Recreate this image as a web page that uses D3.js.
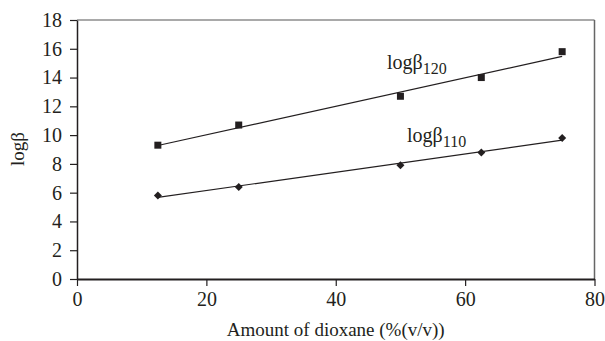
<!DOCTYPE html>
<html><head><meta charset="utf-8">
<script src="https://cdn.jsdelivr.net/npm/d3@7"></script>
<style>body{margin:0;background:#fff}svg{display:block}</style>
</head><body><svg id="c" width="605" height="341"></svg>
<script>
const dioxane = [12.5, 25, 50, 62.5, 75];
const logB120 = [9.3, 10.7, 12.7, 14.0, 15.8];
const logB110 = [5.8, 6.4, 7.9, 8.8, 9.8];
const xTicks = [0, 20, 40, 60, 80];
const yTicks = [0, 2, 4, 6, 8, 10, 12, 14, 16, 18];

const FONT = "'Liberation Serif', Tinos, 'Times New Roman', 'DejaVu Serif', serif";
const svg = d3.select("#c");
const m = {l:77, r:594.5, t:20, b:279};
const x = d3.scaleLinear().domain([0,80]).range([m.l, m.r]);
const y = d3.scaleLinear().domain([0,18]).range([m.b, m.t]);
const ink = "#231f20";

// frame (top and right)
svg.append("line").attr("x1",m.l).attr("x2",m.r).attr("y1",m.t).attr("y2",m.t).attr("stroke","#555").attr("stroke-width",1.2);
svg.append("line").attr("x1",m.r).attr("x2",m.r).attr("y1",m.t).attr("y2",m.b).attr("stroke","#666").attr("stroke-width",1.5);

// axes
const gx = svg.append("g").attr("transform",`translate(0,${m.b})`)
  .call(d3.axisBottom(x).tickValues(xTicks).tickSize(7).tickPadding(6).tickSizeOuter(0));
const gy = svg.append("g").attr("transform",`translate(${m.l},0)`)
  .call(d3.axisLeft(y).tickValues(yTicks).tickSize(7).tickPadding(8).tickSizeOuter(0));
gx.select(".domain").attr("stroke",ink).attr("stroke-width",2);
gy.select(".domain").attr("stroke",ink).attr("stroke-width",1.5);
[gx,gy].forEach(g=>{
  g.attr("font-family",null).attr("font-size",null);
  g.selectAll(".tick line").attr("stroke",ink).attr("stroke-width",1.2);
  g.selectAll(".tick text").style("font-size","20px").style("font-family",FONT).attr("fill",ink);
});
gx.selectAll(".tick text").attr("dy","0.72em");

// titles
svg.append("text").attr("x",(m.l+m.r)/2).attr("y",336).attr("text-anchor","middle")
  .style("font-size","19px").style("font-family",FONT).attr("fill",ink).text("Amount of dioxane (%(v/v))");
svg.append("text").attr("transform","translate(24,149) rotate(-90)").attr("text-anchor","middle")
  .style("font-size","19px").style("font-family",FONT).attr("fill",ink).text("logβ");

// linear fits
function fit(xs, ys){
  const mx=d3.mean(xs), my=d3.mean(ys);
  let sxy=0,sxx=0; xs.forEach((v,i)=>{sxy+=(v-mx)*(ys[i]-my);sxx+=(v-mx)*(v-mx);});
  const b=sxy/sxx, a=my-b*mx; return v=>a+b*v;
}
[logB120, logB110].forEach(ys=>{
  const f = fit(dioxane, ys);
  const x0=d3.min(dioxane), x1=d3.max(dioxane);
  svg.append("line").attr("x1",x(x0)).attr("y1",y(f(x0))).attr("x2",x(x1)).attr("y2",y(f(x1)))
    .attr("stroke",ink).attr("stroke-width",1.2);
});

// markers
svg.append("g").selectAll("rect").data(dioxane).join("rect")
  .attr("x",(d)=>x(d)-3.5).attr("y",(d,i)=>y(logB120[i])-3.5).attr("width",7).attr("height",7).attr("fill",ink);
svg.append("g").selectAll("path").data(dioxane).join("path")
  .attr("d",(d,i)=>{const cx=x(d), cy=y(logB110[i]); return `M${cx},${cy-4}L${cx+4},${cy}L${cx},${cy+4}L${cx-4},${cy}Z`;})
  .attr("fill",ink);

// labels
const l1 = svg.append("text").attr("x",387).attr("y",69).style("font-size","20px").style("font-family",FONT).attr("fill",ink);
l1.append("tspan").text("logβ");
l1.append("tspan").style("font-size","16px").attr("dy",5).text("120");
const l2 = svg.append("text").attr("x",407).attr("y",142).style("font-size","20px").style("font-family",FONT).attr("fill",ink);
l2.append("tspan").text("logβ");
l2.append("tspan").style("font-size","16px").attr("dy",5).text("110");
</script></body></html>
